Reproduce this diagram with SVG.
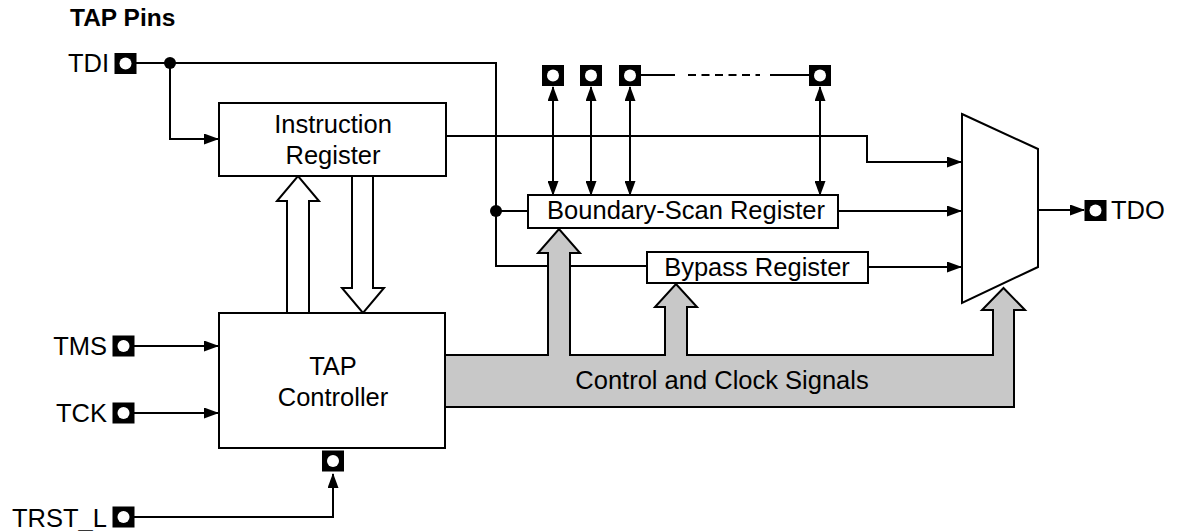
<svg xmlns="http://www.w3.org/2000/svg" width="1180" height="531" viewBox="0 0 1180 531">
<style>
text{font-family:"Liberation Sans",Arial,sans-serif;font-size:25.5px;fill:#000}
.box{fill:#fff;stroke:#000;stroke-width:2}
.ln{fill:none;stroke:#000;stroke-width:2}
.arr{marker-end:url(#ah)}
.bi{marker-start:url(#ah);marker-end:url(#ah)}
.pin{fill:#000}
.hole{fill:#fff}
.mid{text-anchor:middle}
.end{text-anchor:end}
</style>
<defs>
<marker id="ah" viewBox="0 0 15 11" markerWidth="15" markerHeight="11" refX="14" refY="5.5" orient="auto-start-reverse" markerUnits="userSpaceOnUse">
<path d="M0,0 L15,5.5 L0,11 z" fill="#000"/>
</marker>
<g id="pinsym"><rect x="-11" y="-10.5" width="22" height="21" class="pin"/><circle r="6" class="hole"/></g>
</defs>
<rect width="1180" height="531" fill="#fff"/>
<text x="70" y="26" style="font-weight:bold;font-size:24.5px">TAP Pins</text>

<g id="connectors">
<path class="ln" d="M136,63 H496 V266 H647"/>
<circle cx="170" cy="63" r="6"/>
<path class="ln arr" d="M170,63 V139 H218"/>
<circle cx="496" cy="211" r="6"/>
<path class="ln" d="M496,211 H528"/>
<path class="ln arr" d="M446,136 H867 V162 H961"/>
<path class="ln arr" d="M838,211 H961"/>
<path class="ln arr" d="M868,267 H961"/>
<path class="ln arr" d="M1038,210 H1084"/>
<path class="ln arr" d="M134,346 H218"/>
<path class="ln arr" d="M134,413 H218"/>
<path class="ln arr" d="M134,517 H333 V474"/>
<path class="ln bi" d="M553,87 V195"/>
<path class="ln bi" d="M591,87 V195"/>
<path class="ln bi" d="M630,87 V195"/>
<path class="ln bi" d="M820,87 V195"/>
<path class="ln" d="M641,75 H675 M770,75 H809"/>
<path class="ln" d="M688,75 H760" stroke-dasharray="8,5.5"/>
<path id="hollow-up" fill="#fff" stroke="#000" stroke-width="2" d="M287,313 V201 H277 L298,176 L319,201 H309 V313"/>
<path id="hollow-down" fill="#fff" stroke="#000" stroke-width="2" d="M352,176 V288 H342 L363,313 L384,288 H373 V176"/>
<path id="bus" fill="#c8c8c8" stroke="#000" stroke-width="2" d="M446,355 H548 V253 H538 L559,229 L580,253 H570 V355 H665 V307 H655 L676,284 L697,307 H687 V355 H993 V310 H982 L1003.5,288 L1025,310 H1014 V407 H446"/>
<text class="mid" x="722" y="389">Control and Clock Signals</text>
</g>

<g id="pin-tdi"><text class="end" x="109" y="72">TDI</text><use href="#pinsym" x="125.5" y="63.5"/></g>
<g id="pin-tms"><text class="end" x="107" y="355">TMS</text><use href="#pinsym" x="123.5" y="346"/></g>
<g id="pin-tck"><text class="end" x="107" y="422">TCK</text><use href="#pinsym" x="123.5" y="413"/></g>
<g id="pin-trst"><text class="end" x="107" y="527">TRST_L</text><use href="#pinsym" x="123.5" y="517"/></g>
<g id="pin-trst-tap"><use href="#pinsym" x="333" y="461"/></g>
<g id="bs-pins">
<use href="#pinsym" x="553" y="75.5"/>
<use href="#pinsym" x="591" y="75.5"/>
<use href="#pinsym" x="630" y="75.5"/>
<use href="#pinsym" x="820" y="75.5"/>
</g>
<g id="pin-tdo"><use href="#pinsym" x="1095.5" y="210.5"/><text x="1111" y="219">TDO</text></g>

<g id="instruction-register">
<rect class="box" x="219" y="103" width="227" height="73"/>
<text class="mid" x="333" y="133">Instruction</text>
<text class="mid" x="333" y="164">Register</text>
</g>
<g id="boundary-scan-register">
<rect class="box" x="528" y="195" width="310" height="33"/>
<text class="mid" x="686" y="219">Boundary-Scan Register</text>
</g>
<g id="bypass-register">
<rect class="box" x="647" y="252" width="221" height="31"/>
<text class="mid" x="757" y="276">Bypass Register</text>
</g>
<g id="tap-controller">
<rect class="box" x="219" y="313" width="226" height="135"/>
<text class="mid" x="333" y="375">TAP</text>
<text class="mid" x="333" y="406">Controller</text>
</g>
<g id="mux">
<path class="box" d="M962,114 L1038,149 V267 L962,303 Z"/>
</g>
</svg>
